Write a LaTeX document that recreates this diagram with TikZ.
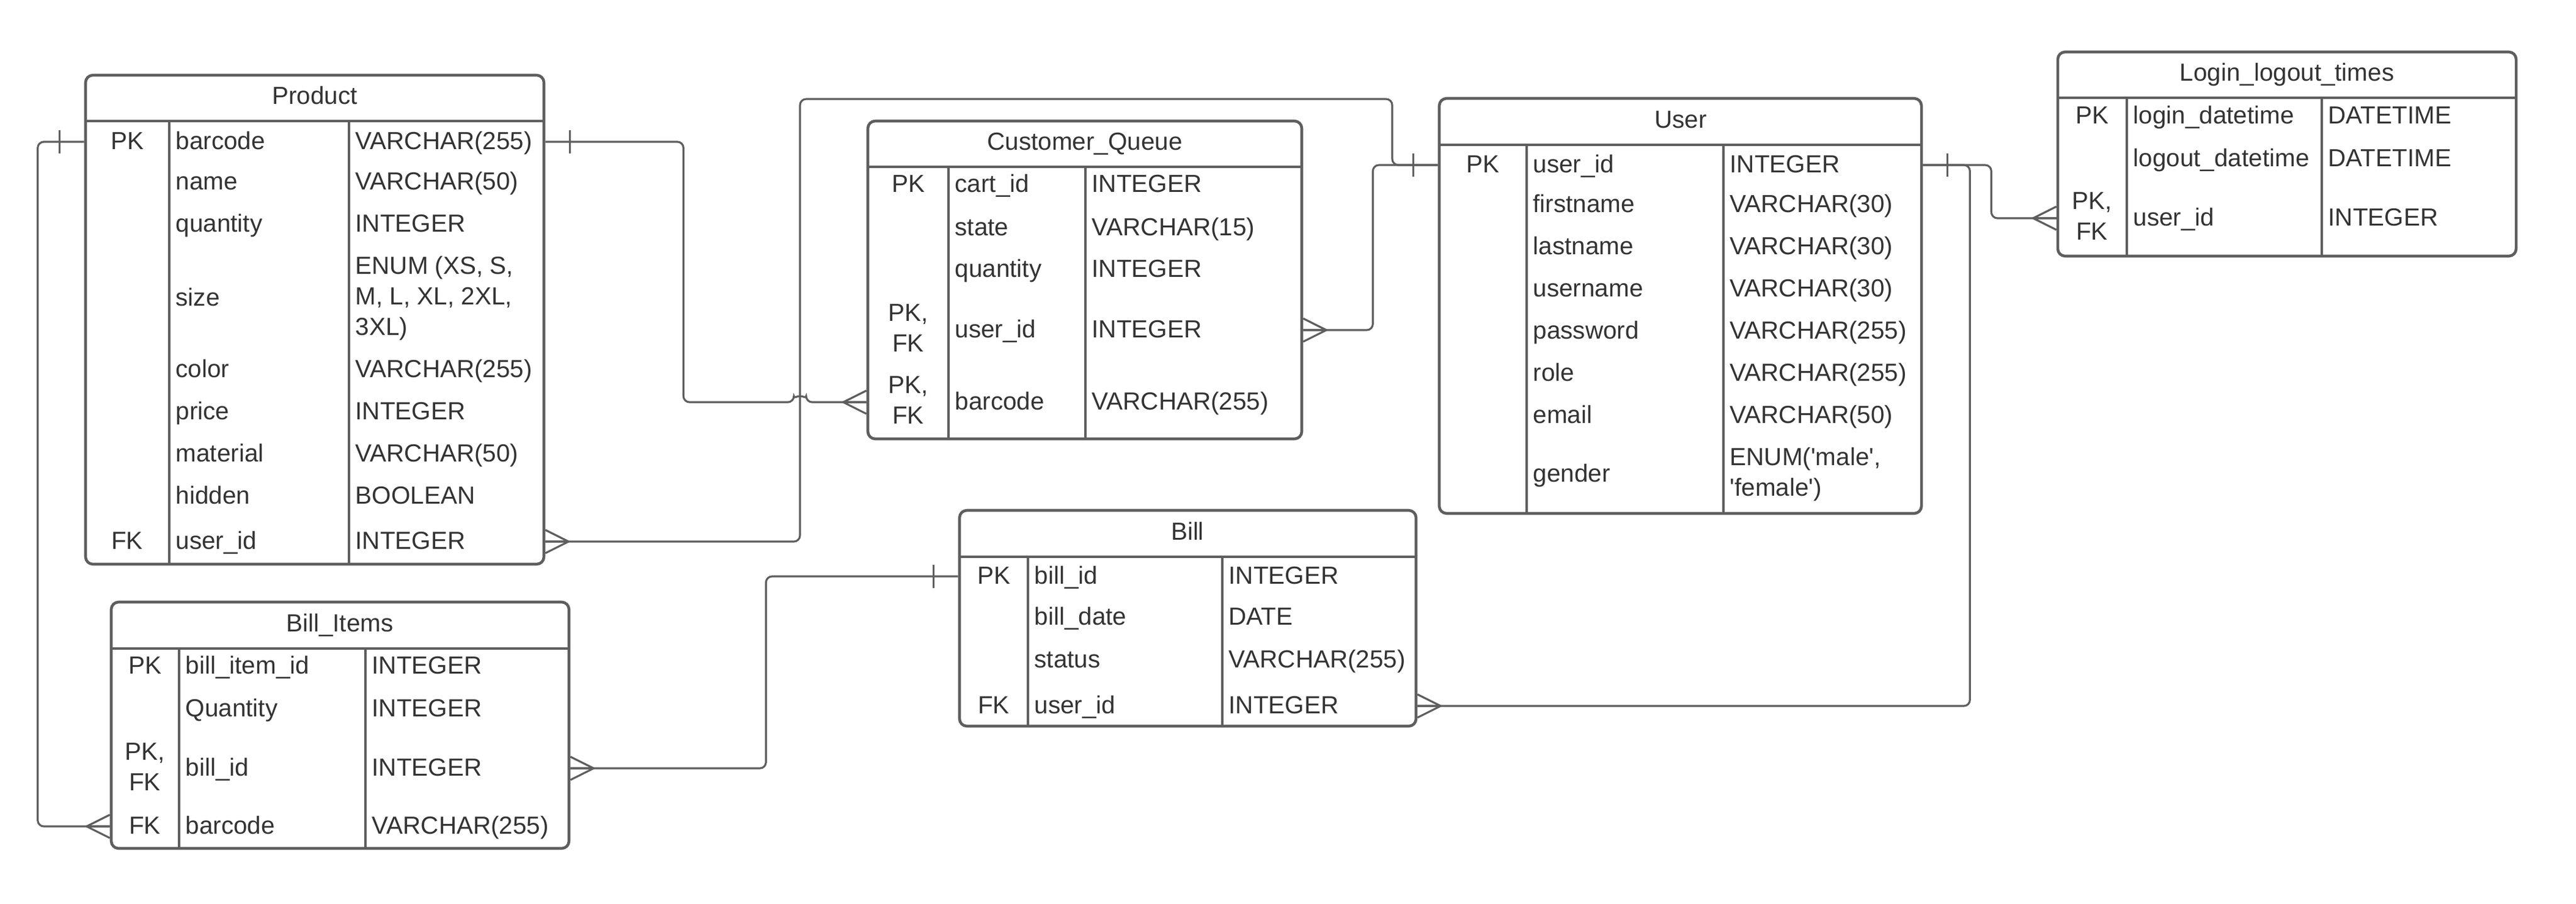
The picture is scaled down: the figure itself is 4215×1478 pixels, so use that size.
\documentclass[tikz,border=0pt]{standalone}
\usepackage{fontspec}
\setmainfont{Liberation Sans}
\usetikzlibrary{fit}

\definecolor{erline}{RGB}{94,94,94}
\definecolor{ertext}{RGB}{51,51,51}

\tikzset{
  tablebox/.style={draw=erline, line width=1.3pt, rounded corners=0.12cm, inner sep=0pt},
  headrule/.style={draw=erline, line width=1.3pt},
  colrule/.style={draw=erline, line width=1.1pt},
  conn/.style={draw=erline, line width=0.9pt, rounded corners=0.1cm},
  endmark/.style={draw=erline, line width=0.9pt},
  title/.style={text=ertext, inner sep=0pt, text height=0.95em, text depth=0.25em},
  cell/.style={anchor=west, text=ertext, inner sep=0pt, text height=0.95em, text depth=0.25em},
  multicell/.style={anchor=west, text=ertext, inner sep=0pt, align=left},
  keycell/.style={text=ertext, inner sep=0pt, text height=0.95em, text depth=0.25em},
  keypair/.style={text=ertext, inner sep=0pt, align=center},
  one/.pic={\draw[endmark] (-40,-19) -- (-40,19);},
  many/.pic={\draw[endmark] (0,-19) -- (-38,0) (0,0) -- (-38,0) (0,19) -- (-38,0);}
}

\begin{document}
\begin{tikzpicture}[x=0.01cm, y=-0.01cm, font=\fontsize{11.5}{14.2}\selectfont]
    \useasboundingbox (0,0) rectangle (4215,1478);

    % Product
    \node[tablebox, fit={(140,123) (890,923)}] (product) {};
    \draw[headrule] (140,198) -- (890,198);
    \draw[colrule] (277,198) -- (277,923) (571,198) -- (571,923);
    \node[title] (product-title) at (515,158) {Product};
    \foreach \y/\id/\fname/\ftype in {232/barcode/barcode/VARCHAR(255), 298/name/name/VARCHAR(50),
        367/quantity/quantity/INTEGER, 605/color/color/VARCHAR(255), 674/price/price/INTEGER,
        743/material/material/VARCHAR(50), 812/hidden/hidden/BOOLEAN, 886/userid/user\_id/INTEGER}{
        \node[cell] (product-\id) at (287,\y) {\fname};
        \node[cell] (product-\id-type) at (581,\y) {\ftype};
    }
    \node[cell] (product-size) at (287,488) {size};
    \node[multicell] (product-size-type) at (581,488) {ENUM (XS, S,\\M, L, XL, 2XL,\\3XL)};
    \node[keycell] (product-pk) at (208,232) {PK};
    \node[keycell] (product-fk) at (208,886) {FK};

    % Customer_Queue
    \node[tablebox, fit={(1420,198) (2130,718)}] (queue) {};
    \draw[headrule] (1420,273) -- (2130,273);
    \draw[colrule] (1552,273) -- (1552,718) (1776,273) -- (1776,718);
    \node[title] (queue-title) at (1775,233) {Customer\_Queue};
    \foreach \y/\id/\fname/\ftype in {302/cartid/cart\_id/INTEGER, 373/state/state/VARCHAR(15),
        441/quantity/quantity/INTEGER, 540/userid/user\_id/INTEGER, 658/barcode/barcode/VARCHAR(255)}{
        \node[cell] (queue-\id) at (1562,\y) {\fname};
        \node[cell] (queue-\id-type) at (1786,\y) {\ftype};
    }
    \node[keycell] (queue-pk) at (1486,302) {PK};
    \node[keypair] (queue-key-user) at (1486,537) {PK,\\FK};
    \node[keypair] (queue-key-barcode) at (1486,655) {PK,\\FK};

    % User
    \node[tablebox, fit={(2355,161) (3144,840)}] (user) {};
    \draw[headrule] (2355,237) -- (3144,237);
    \draw[colrule] (2498,237) -- (2498,840) (2820,237) -- (2820,840);
    \node[title] (user-title) at (2750,197) {User};
    \foreach \y/\id/\fname/\ftype in {270/userid/user\_id/INTEGER, 335/firstname/firstname/VARCHAR(30),
        404/lastname/lastname/VARCHAR(30), 473/username/username/VARCHAR(30),
        542/password/password/VARCHAR(255), 611/role/role/VARCHAR(255), 680/email/email/VARCHAR(50)}{
        \node[cell] (user-\id) at (2508,\y) {\fname};
        \node[cell] (user-\id-type) at (2830,\y) {\ftype};
    }
    \node[cell] (user-gender) at (2508,776) {gender};
    \node[multicell] (user-gender-type) at (2830,776) {ENUM(\textquotesingle male\textquotesingle,\\\textquotesingle female\textquotesingle)};
    \node[keycell] (user-pk) at (2426,270) {PK};

    % Login_logout_times
    \node[tablebox, fit={(3367,85) (4117,419)}] (login) {};
    \draw[headrule] (3367,160) -- (4117,160);
    \draw[colrule] (3480,160) -- (3480,419) (3799,160) -- (3799,419);
    \node[title] (login-title) at (3742,120) {Login\_logout\_times};
    \foreach \y/\id/\fname/\ftype in {190/login/login\_datetime/DATETIME,
        260/logout/logout\_datetime/DATETIME, 357/userid/user\_id/INTEGER}{
        \node[cell] (login-\id) at (3490,\y) {\fname};
        \node[cell] (login-\id-type) at (3809,\y) {\ftype};
    }
    \node[keycell] (login-pk) at (3423,190) {PK};
    \node[keypair] (login-key-user) at (3423,354) {PK,\\FK};

    % Bill
    \node[tablebox, fit={(1570,835) (2317,1188)}] (bill) {};
    \draw[headrule] (1570,911) -- (2317,911);
    \draw[colrule] (1682,911) -- (1682,1188) (2000,911) -- (2000,1188);
    \node[title] (bill-title) at (1943,871) {Bill};
    \foreach \y/\id/\fname/\ftype in {943/billid/bill\_id/INTEGER, 1010/billdate/bill\_date/DATE,
        1080/status/status/VARCHAR(255), 1155/userid/user\_id/INTEGER}{
        \node[cell] (bill-\id) at (1692,\y) {\fname};
        \node[cell] (bill-\id-type) at (2010,\y) {\ftype};
    }
    \node[keycell] (bill-pk) at (1626,943) {PK};
    \node[keycell] (bill-fk) at (1626,1155) {FK};

    % Bill_Items
    \node[tablebox, fit={(182,985) (931,1388)}] (items) {};
    \draw[headrule] (182,1061) -- (931,1061);
    \draw[colrule] (293,1061) -- (293,1388) (598,1061) -- (598,1388);
    \node[title] (items-title) at (556,1021) {Bill\_Items};
    \foreach \y/\id/\fname/\ftype in {1090/itemid/bill\_item\_id/INTEGER, 1160/quantity/Quantity/INTEGER,
        1257/billid/bill\_id/INTEGER, 1352/barcode/barcode/VARCHAR(255)}{
        \node[cell] (items-\id) at (303,\y) {\fname};
        \node[cell] (items-\id-type) at (608,\y) {\ftype};
    }
    \node[keycell] (items-pk) at (237,1090) {PK};
    \node[keypair] (items-key-bill) at (237,1255) {PK,\\FK};
    \node[keycell] (items-fk) at (237,1352) {FK};

    % relationships
    \coordinate (ujog) at (1309,162);
    \coordinate (utop) at (2278,162);
    \draw[conn] (product.west |- product-barcode) -- ++(-76,0) |- (items.west |- items-barcode);
    \draw[conn] (product.east |- product-barcode) -- ++(226,0) |- ([xshift=-0.1cm]ujog |- queue-barcode)
        arc[start angle=180, end angle=0, radius=0.1cm] -- (queue.west |- queue-barcode);
    \draw[conn] (product.east |- product-userid) -| (ujog) -- (utop) |- (user.west |- user-userid);
    \draw[conn] (queue.east |- queue-userid) -- ++(114,0) |- (user.west |- user-userid);
    \draw[conn] (user.east |- user-userid) -- ++(112,0) |- (login.west |- login-userid);
    \draw[conn] (bill.east |- bill-userid) -- ++(904,0) |- (user.east |- user-userid);
    \draw[conn] (items.east |- items-billid) -- ++(320,0) |- (bill.west |- bill-billid);

    \pic at (product.west |- product-barcode) {one};
    \pic[xscale=-1] at (product.east |- product-barcode) {one};
    \pic at (items.west |- items-barcode) {many};
    \pic at (queue.west |- queue-barcode) {many};
    \pic[xscale=-1] at (product.east |- product-userid) {many};
    \pic at (user.west |- user-userid) {one};
    \pic[xscale=-1] at (queue.east |- queue-userid) {many};
    \pic[xscale=-1] at (user.east |- user-userid) {one};
    \pic at (login.west |- login-userid) {many};
    \pic[xscale=-1] at (bill.east |- bill-userid) {many};
    \pic[xscale=-1] at (items.east |- items-billid) {many};
    \pic at (bill.west |- bill-billid) {one};
\end{tikzpicture}
\end{document}
